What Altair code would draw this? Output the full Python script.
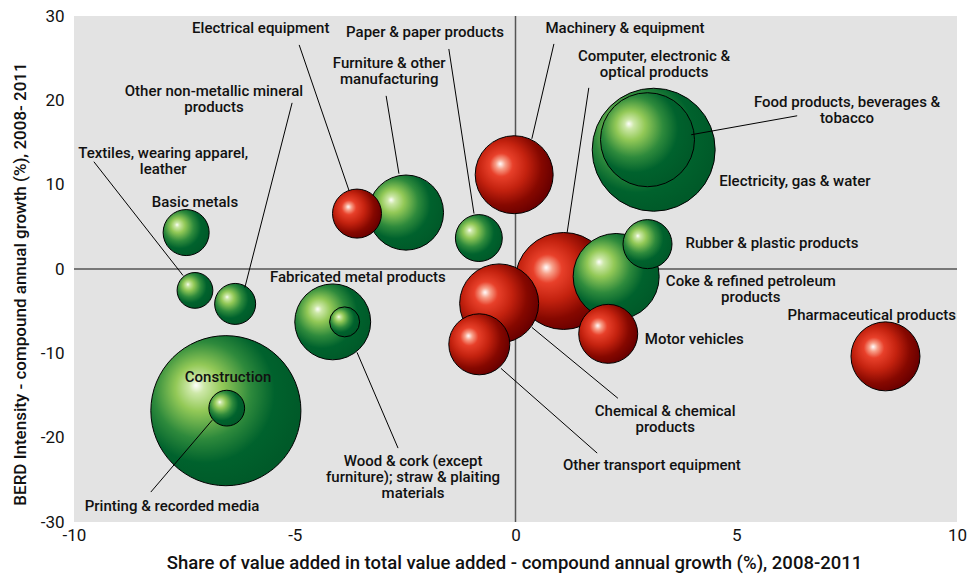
import altair as alt
import pandas as pd

# ---- bubbles ----
sectors = ["Basic metals", "Textiles, wearing apparel, leather", "Other non-metallic mineral products",
           "Fabricated metal products", "Wood & cork", "Construction", "Printing & recorded media",
           "Electrical equipment", "Furniture & other manufacturing", "Paper & paper products",
           "Machinery & equipment", "Computer, electronic & optical products", "Coke & refined petroleum products",
           "Rubber & plastic products", "Electricity, gas & water", "Food products, beverages & tobacco",
           "Chemical & chemical products", "Other transport equipment", "Motor vehicles", "Pharmaceutical products"]
share_growth = [-7.46, -7.26, -6.35, -4.14, -3.87, -6.56, -6.54, -3.59, -2.48, -0.83,
                -0.03, 1.09, 2.28, 2.99, 3.13, 2.99, -0.37, -0.82, 2.10, 8.38]
berd_growth = [4.32, -2.54, -4.14, -6.27, -6.27, -16.8, -16.5, 6.57, 6.69, 3.67,
               11.18, -1.42, -0.89, 2.95, 14.14, 15.33, -4.08, -8.93, -7.69, -10.36]
bubble_size = [5.3, 3.2, 4.2, 14.4, 2.25, 56.3, 3.2, 6.0, 14.1, 5.5,
               15.2, 23.5, 18.5, 6.0, 37.8, 22.1, 15.6, 9.3, 8.7, 11.9]
group = ["green", "green", "green", "green", "green", "green", "green", "red", "green", "green",
         "red", "red", "green", "green", "green", "green", "red", "red", "red", "red"]

# ---- labels (y = first line) ----
label_text = ["Electrical equipment", "Paper & paper products", "Machinery & equipment",
              "Computer, electronic &\noptical products", "Furniture & other\nmanufacturing",
              "Other non-metallic mineral\nproducts", "Food products, beverages &\ntobacco",
              "Textiles, wearing apparel,\nleather", "Basic metals", "Electricity, gas & water",
              "Rubber & plastic products", "Fabricated metal products", "Coke & refined petroleum\nproducts",
              "Pharmaceutical products", "Motor vehicles", "Construction", "Chemical & chemical\nproducts",
              "Wood & cork (except\nfurniture); straw & plaiting\nmaterials", "Other transport equipment",
              "Printing & recorded media"]
label_x = [-5.77, -2.05, 2.48, 3.14, -2.86, -6.83, 7.51, -7.98, -7.26, 6.33,
           5.81, -3.57, 5.33, 8.07, 4.05, -6.51, 3.39, -2.32, 3.09, -7.78]
label_y = [28.6, 28.1, 28.6, 25.27, 24.44, 21.12, 19.82, 13.79, 7.99, 10.47,
           3.14, -0.89, -1.48, -5.5, -8.34, -12.84, -16.86, -22.78, -23.25, -28.1]

# ---- leader lines ----
lead_x1 = [-4.90, -1.51, -2.93, -5.06, -9.55, 0.87, 1.66, 6.38, 0.37, -0.33, -3.59, -6.87]
lead_y1 = [26.57, 26.09, 20.53, 19.70, 12.72, 26.69, 21.48, 18.17, -6.92, -11.78, -9.88, -17.93]
lead_x2 = [-3.77, -0.94, -2.64, -6.13, -7.53, 0.37, 1.17, 3.98, 2.32, 1.85, -2.66, -8.26]
lead_y2 = [9.29, 6.57, 11.30, -2.19, -0.77, 15.44, 4.32, 15.92, -15.33, -21.83, -21.24, -26.45]

bubbles = pd.DataFrame({"sector": sectors, "x": share_growth, "y": berd_growth,
                        "v": bubble_size, "g": group}).sort_values("v", ascending=False)
labels = pd.DataFrame({"t": label_text, "x": label_x, "y": label_y})
leads = pd.DataFrame({"x": lead_x1, "y": lead_y1, "x2": lead_x2, "y2": lead_y2})
zeros = pd.DataFrame({"x": [0], "y": [0]})

FONT = "Roboto"

green_grad = {"gradient": "radial", "x1": 0.3, "y1": 0.33, "r1": 0, "x2": 0.38, "y2": 0.4, "r2": 0.62,
              "stops": [{"offset": 0, "color": "#ffffff"}, {"offset": 0.08, "color": "#cde8a8"},
                        {"offset": 0.25, "color": "#93c957"}, {"offset": 0.52, "color": "#2e8a3c"},
                        {"offset": 0.75, "color": "#00622d"}, {"offset": 1, "color": "#005a29"}]}
red_grad = {"gradient": "radial", "x1": 0.32, "y1": 0.36, "r1": 0, "x2": 0.38, "y2": 0.42, "r2": 0.62,
            "stops": [{"offset": 0, "color": "#ffffff"}, {"offset": 0.1, "color": "#f7a08a"},
                      {"offset": 0.24, "color": "#e8402a"}, {"offset": 0.5, "color": "#c4220f"},
                      {"offset": 0.78, "color": "#860800"}, {"offset": 1, "color": "#6a0000"}]}

xs = alt.Scale(domain=[-10, 10], nice=False, zero=False)
ys = alt.Scale(domain=[-30, 30], nice=False, zero=False)

minus_fix = "replace(datum.label, '\u2212', '-')"

xaxis = alt.Axis(values=[-10, -5, 0, 5, 10], ticks=False, domain=False, grid=False, labelFlush=False,
                 labelFontSize=17, labelFont=FONT, labelColor="#111", labelPadding=5, labelExpr=minus_fix,
                 title="Share of value added in total value added - compound annual growth (%), 2008-2011",
                 titleFont=FONT, titleFontSize=18.5, titleFontWeight=500, titleColor="#111",
                 titleX=440, titleY=40, titleBaseline="middle", titleAlign="center")
yaxis = alt.Axis(values=[-30, -20, -10, 0, 10, 20, 30], ticks=False, domain=False, grid=False, labelFlush=False,
                 labelFontSize=17, labelFont=FONT, labelColor="#111", labelPadding=10, labelExpr=minus_fix,
                 title="BERD Intensity - compound annual growth (%), 2008- 2011",
                 titleFont=FONT, titleFontSize=17, titleFontWeight=500, titleColor="#111",
                 titleX=-54, titleY=267.5, titleBaseline="middle", titleAlign="center", titleAngle=-90)

vline = alt.Chart(zeros).mark_rule(color="#555555", strokeWidth=1.5).encode(
    x=alt.X("x:Q", scale=xs, axis=xaxis))
hline = alt.Chart(zeros).mark_rule(color="#555555", strokeWidth=1.5).encode(
    y=alt.Y("y:Q", scale=ys, axis=yaxis))

circles = alt.Chart(bubbles).mark_circle(opacity=1, stroke="#000000", strokeWidth=1).encode(
    x=alt.X("x:Q", scale=xs),
    y=alt.Y("y:Q", scale=ys),
    size=alt.Size("v:Q", scale=alt.Scale(domain=[0, 100], range=[0, 40000]), legend=None),
    fill=alt.condition("datum.g == 'red'", alt.value(red_grad), alt.value(green_grad)),
    order=alt.Order("v:Q", sort="descending"),
)

lines = alt.Chart(leads).mark_rule(color="#000000", strokeWidth=1).encode(
    x=alt.X("x:Q", scale=xs), y=alt.Y("y:Q", scale=ys),
    x2="x2:Q", y2="y2:Q")

texts = alt.Chart(labels).mark_text(font=FONT, fontSize=15, fontWeight=500, color="#111111", align="center",
                                   baseline="middle", lineBreak="\n", lineHeight=16).encode(
    x=alt.X("x:Q", scale=xs), y=alt.Y("y:Q", scale=ys), text="t:N")

chart = alt.layer(vline, hline, circles, lines, texts).properties(
    width=883, height=506,
    autosize=alt.AutoSizeParams(type="none"),
    padding={"left": 66, "top": 8, "right": 12, "bottom": 55},
).configure_view(fill="#e3e3e3", stroke=None)

chart.save("out.html", embed_options={"renderer": "svg", "actions": False})
